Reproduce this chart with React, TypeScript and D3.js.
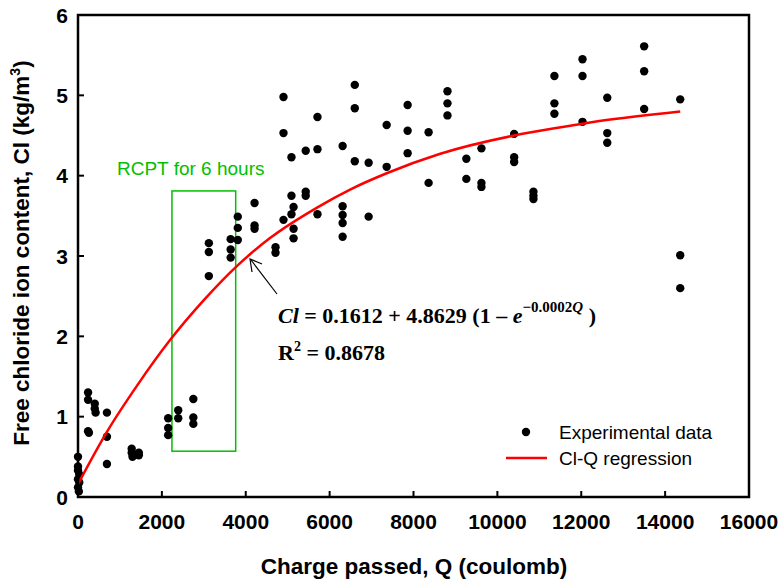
import React from 'react';
import * as d3 from 'd3';

// measured points (charge passed Q in coulomb, free chloride Cl in kg/m3)
const charge = [
  0, 0, 0, 30, 0, 30, 0, 20,
  240, 240, 240, 260,
  400, 400, 420,
  690, 690, 690,
  1280, 1280, 1300, 1450, 1450,
  2150, 2150, 2150,
  2390, 2390,
  2750, 2750, 2750,
  3120, 3120, 3120,
  3640, 3640, 3640,
  3810, 3810, 3810,
  4210, 4210, 4210,
  4710, 4710,
  4900, 4900, 4900,
  5090, 5090, 5090, 5140, 5140, 5140,
  5430, 5430, 5430,
  5710, 5710, 5710,
  6310, 6310, 6310, 6310, 6310,
  6600, 6600, 6600,
  6930, 6930,
  7360, 7360,
  7860, 7860, 7860,
  8360, 8360,
  8810, 8810, 8810,
  9260, 9260,
  9620, 9620, 9620,
  10400, 10400, 10400,
  10860, 10860, 10860,
  11360, 11360, 11360,
  12030, 12030, 12030,
  12620, 12620, 12620,
  13500, 13500, 13500,
  14360, 14360, 14360,
];
const chloride = [
  0.5, 0.38, 0.33, 0.28, 0.22, 0.18, 0.12, 0.07,
  1.3, 1.21, 0.82, 0.8,
  1.16, 1.1, 1.05,
  1.05, 0.75, 0.41,
  0.6, 0.55, 0.5, 0.55, 0.52,
  0.98, 0.86, 0.77,
  1.08, 0.98,
  1.22, 0.99, 0.91,
  3.16, 3.05, 2.75,
  3.21, 3.08, 2.98,
  3.49, 3.35, 3.2,
  3.66, 3.38, 3.34,
  3.11, 3.04,
  4.98, 4.53, 3.45,
  4.23, 3.75, 3.52, 3.61, 3.34, 3.22,
  4.31, 3.8, 3.75,
  4.73, 4.33, 3.52,
  4.37, 3.62, 3.51, 3.41, 3.24,
  5.13, 4.84, 4.18,
  4.16, 3.49,
  4.63, 4.11,
  4.88, 4.56, 4.28,
  4.54, 3.91,
  5.05, 4.9, 4.75,
  4.21, 3.96,
  4.34, 3.91, 3.86,
  4.52, 4.23, 4.17,
  3.8, 3.75, 3.71,
  5.24, 4.9, 4.77,
  5.45, 5.24, 4.67,
  4.97, 4.53, 4.41,
  5.61, 5.3, 4.83,
  4.95, 3.01, 2.6,
];

// regression curve
const fitQ = [0, 700, 1400, 2190, 3000, 3800, 4570, 5690, 6500, 7360, 8620, 10400, 11480, 12430, 14360];
const fitCl = [0.16, 0.82, 1.38, 1.95, 2.45, 2.88, 3.22, 3.6, 3.83, 4.03, 4.27, 4.5, 4.6, 4.68, 4.8];

const xTicks = [0, 2000, 4000, 6000, 8000, 10000, 12000, 14000, 16000];
const yTicks = [0, 1, 2, 3, 4, 5, 6];

// RCPT 6 hour window [Q from, Q to, Cl low, Cl high]
const rcptBox = [2240, 3760, 0.57, 3.81];

const W = 783;
const H = 581;
const left = 78, right = 749, top = 15, bottom = 497;

const App = () => {
  const x = d3.scaleLinear().domain([0, 16000]).range([left, right]);
  const y = d3.scaleLinear().domain([0, 6]).range([bottom, top]);

  const line = d3.line<number>()
    .x((_, i) => x(fitQ[i]))
    .y(d => y(d))
    .curve(d3.curveMonotoneX);

  const arial = '"Liberation Sans", Arial, sans-serif';
  const times = '"Liberation Serif", "Times New Roman", serif';

  return (
    <svg width={W} height={H} style={{ position: 'absolute', left: 0, top: 0, background: '#fff' }}>
      {/* green RCPT box */}
      <rect x={x(rcptBox[0])} y={y(rcptBox[3])}
        width={x(rcptBox[1]) - x(rcptBox[0])} height={y(rcptBox[2]) - y(rcptBox[3])}
        fill="none" stroke="#00c000" strokeWidth={1.5} />
      <text x={117} y={175} fill="#00c000" fontFamily={arial} fontSize={19}>RCPT for 6 hours</text>

      {charge.map((q, i) => (
        <circle key={i} cx={x(q)} cy={y(chloride[i])} r={4.2} fill="#000" />
      ))}

      <path d={line(fitCl) || ''} fill="none" stroke="#ff0000" strokeWidth={2.5} />

      {/* arrow */}
      <g stroke="#000" strokeWidth={1.2} fill="none">
        <line x1={277} y1={294} x2={251} y2={260} />
        <polyline points="252,272 250,259 262,264" />
      </g>

      {/* equation */}
      <text x={278} y={323} fontFamily={times} fontSize={22} fontWeight="bold">
        <tspan fontStyle="italic">Cl</tspan>
        <tspan> = 0.1612 + 4.8629 (1 – </tspan>
        <tspan fontStyle="italic">e</tspan>
        <tspan fontSize={15} dy={-11}>−0.0002</tspan>
        <tspan fontSize={15} fontStyle="italic">Q</tspan>
        <tspan dy={11}> )</tspan>
      </text>
      <text x={278} y={360} fontFamily={times} fontSize={22} fontWeight="bold">
        R<tspan fontSize={14} dy={-9}>2</tspan><tspan dy={9}> = 0.8678</tspan>
      </text>

      {/* frame */}
      <rect x={left} y={top} width={right - left} height={bottom - top} fill="none" stroke="#000" strokeWidth={2.5} />

      {xTicks.map(t => (
        <g key={t}>
          <line x1={x(t)} x2={x(t)} y1={bottom} y2={bottom - 6} stroke="#000" strokeWidth={2} />
          <text x={x(t)} y={529} textAnchor="middle" fontFamily={arial} fontSize={21} fontWeight="bold">{t}</text>
        </g>
      ))}
      {yTicks.map(t => (
        <g key={t}>
          <line x1={left} x2={left + 6} y1={y(t)} y2={y(t)} stroke="#000" strokeWidth={2} />
          <text x={68} y={y(t)} dy="0.36em" textAnchor="end" fontFamily={arial} fontSize={21} fontWeight="bold">{t}</text>
        </g>
      ))}

      <text x={414} y={574} textAnchor="middle" fontFamily={arial} fontSize={22.5} fontWeight="bold">
        Charge passed, Q (coulomb)
      </text>
      <text transform="translate(29,253) rotate(-90)" textAnchor="middle" fontFamily={arial} fontSize={22.5} fontWeight="bold">
        Free chloride ion content, Cl (kg/m<tspan fontSize={14} dy={-9}>3</tspan><tspan dy={9}>)</tspan>
      </text>

      {/* legend */}
      <circle cx={526} cy={432} r={4.2} fill="#000" />
      <text x={559} y={432} dy="0.36em" fontFamily={arial} fontSize={19}>Experimental data</text>
      <line x1={506} x2={547} y1={458} y2={458} stroke="#ff0000" strokeWidth={2.5} />
      <text x={559} y={458} dy="0.36em" fontFamily={arial} fontSize={19}>Cl-Q regression</text>
    </svg>
  );
};

export default App;
